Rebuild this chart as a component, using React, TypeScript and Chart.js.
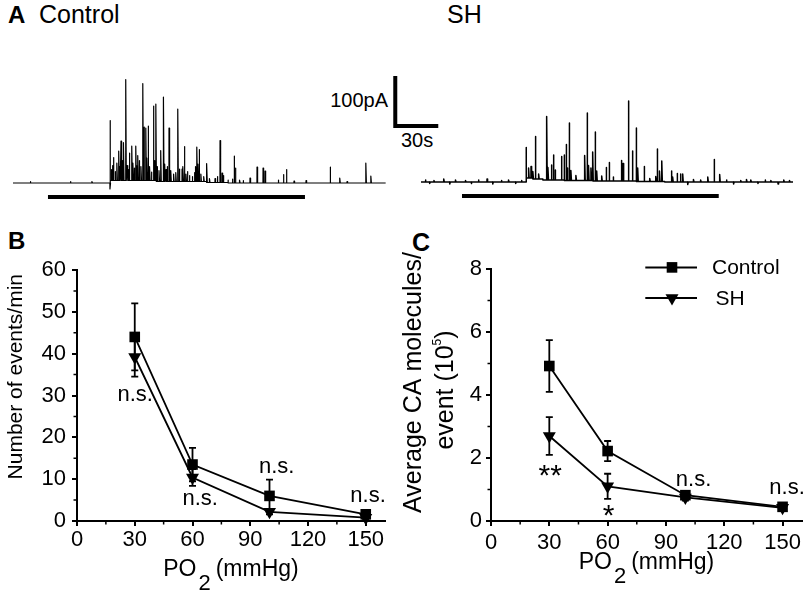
import React, { useEffect, useRef } from 'react';
import { Chart, registerables } from 'chart.js';

Chart.register(...registerables);

const FONT = '"Liberation Sans", Arial, Helvetica, sans-serif';

// ---------------- Panel A: amperometric traces (time in s, current in pA) ----------------
const ctrlSpikeTimes = [
  12, 40, 55, 67.6, 67.7, 68.5, 69.3, 70, 71.2, 72.4, 73.7, 74.4, 75.3, 76.1, 77, 78.6, 79.5, 80.2, 81.1, 82.8,
  83.6, 84.5, 85.6, 86.2, 87, 88, 89.2, 90.5, 91, 91.4, 92.6, 93.3, 94.2, 95.2, 96.5, 97.9, 98.6, 99.6, 100.5,
  101.8, 103, 104.9, 105.8, 106.7, 107.5, 108.8, 110, 112, 113.5, 114.9, 116, 117.9, 118.5, 119.5, 120.6, 121.6,
  123, 125, 126.5, 127.3, 128.2, 129, 129.8, 131, 133, 135.1, 137, 140.9, 142.5, 144.4, 145.8, 146.7, 150, 153,
  154.2, 155.1, 158, 160.5, 165.3, 170.2, 174.4, 175.8, 185, 188.6, 190.7, 196, 204.4, 221.2, 227.9, 233, 246.1, 249.6,
];
const ctrlSpikeAmps = [
  3, 3, 3, -12, 125, 22, 30, 46, 18, 35, 59, 28, 79, 40, 76, 202, 30, 22, 55, 69,
  35, 25, 69, 30, 50, 40, 28, 194, 30, 107, 105, 45, 109, 28, 17, 149, 40, 153, 30,
  22, 62, 169, 35, 24, 30, 107, 22, 15, 18, 145, 25, 25, 30, 70, 15, 20,
  12, 10, 18, 30, 69, 35, 64, 15, 10, 38, 8, 8, 12, 84, 19, 14, 6, 8,
  54, 30, 6, 5, 10, 32, 30, 24, 6, 17, 27, 4, 5, 32, 10, 3, 40, 14,
];
const ctrlBaseTimes = [0, 67.8, 100, 135, 150];
const ctrlBaseLevels = [0, 5, 3, 1, 0];
const ctrlStimulus = [24.4, 203.7];

const shSpikeTimes = [
  3, 6, 9, 15.8, 20, 24, 31, 35, 40, 46, 50, 56, 61, 66, 70,
  73.3, 75, 76.7, 78, 79.7, 82, 87.6, 88.5, 90.9, 92.3, 93.5, 97.9, 99.8, 101.2, 102, 103.3, 104.5, 108,
  114.1, 115.8, 116.8, 118.5, 119.7, 121.4, 122.5, 126, 129.1, 131.2, 134, 139.7, 140.9, 144.6, 147.4, 150.2,
  151.1, 155.6, 159.5, 163.7, 164.7, 166.3, 167.9, 174.6, 175.5, 178.6, 180.9, 182.5, 186, 190, 195, 200, 204.4, 208.3,
  213, 218, 223, 227, 230, 235, 240, 244, 249, 253, 257,
];
const shSpikeAmps = [
  4, -3, 3, 6, -4, 4, 3, -3, 4, 6, -4, 3, 4, -3, 3,
  61, 20, 23, 15, 85, 10, 127, 25, 30, 50, 20, 47, 50, 72, 25, 115, 20, 10,
  50, 135, 30, 25, 57, 98, 20, 10, 27, 37, 8, 41, 35, 160, 60, 107,
  27, 30, 6, 10, 65, 21, 41, 22, 10, 17, 16, 16, -5, 5, 4, 10, 45, 15,
  4, -4, 3, 5, 4, -3, 4, 3, -4, 4, 3,
];
const shBaseTimes = [0, 73.3, 78, 85, 100, 120, 150, 170];
const shBaseLevels = [0, 8, 6, 4, 3, 2, 1, 0];
const shStimulus = [28.6, 207.7];

const scaleBarTime = 30; // s
const scaleBarCurrent = 100; // pA

// ---------------- Panels B & C ----------------
const po2Levels = [30, 60, 100, 150];
const po2Ticks = [0, 30, 60, 90, 120, 150];

const eventsControl = [44, 13.5, 6, 1.6];
const eventsControlSem = [8, 4, 3.9, 0.5];
const eventsSH = [39.2, 10.4, 2.2, 0.8];
const eventsSHSem = [4.7, 2, 0.6, 0.3];
const eventsTicks = [0, 10, 20, 30, 40, 50, 60];
const eventsNotes = ['n.s.', 'n.s.', 'n.s.', 'n.s.'];
const eventsNoteX = [30.2, 64, 103.7, 151.2];
const eventsNoteY = [30.1, 5.2, 12.8, 6.0];

const moleculesControl = [4.92, 2.22, 0.82, 0.45];
const moleculesControlSem = [0.82, 0.32, 0.1, 0.08];
const moleculesSH = [2.7, 1.1, 0.75, 0.42];
const moleculesSHSem = [0.6, 0.4, 0.1, 0.07];
const moleculesTicks = [0, 2, 4, 6, 8];
const moleculesNotes = ['**', '*', 'n.s.', 'n.s.'];
const moleculesNoteX = [30.5, 60.5, 104.2, 152.3];
const moleculesNoteY = [1.68, 0.42, 1.3, 1.03];

const seriesNames = ['Control', 'SH'];

// ---------------- layout constants ----------------
const PX_PER_S = 1.4333;
const PX_PER_PA = 0.5;
const TRACE_MIN = -38;
const TRACE_MAX = 222;
const STIM_LEVEL = -28;

type Pt = { x: number; y: number };

function buildTrace(spT: number[], spA: number[], bT: number[], bV: number[], end: number): Pt[] {
  const ev: { t: number; k: number; v: number }[] = [];
  spT.forEach((t, i) => ev.push({ t, k: 1, v: spA[i] }));
  bT.forEach((t, i) => ev.push({ t, k: 0, v: bV[i] }));
  ev.sort((a, b) => a.t - b.t || a.k - b.k);
  const pts: Pt[] = [{ x: 0, y: 0 }];
  let level = 0;
  for (const e of ev) {
    if (e.k === 0) {
      pts.push({ x: e.t, y: level });
      level = e.v;
      pts.push({ x: e.t, y: level });
    } else {
      pts.push({ x: e.t, y: level }, { x: e.t + 0.05, y: level + e.v }, { x: e.t + 0.45, y: level });
    }
  }
  pts.push({ x: end, y: level });
  return pts;
}

function TraceChart(props: {
  spT: number[]; spA: number[]; bT: number[]; bV: number[]; stim: number[];
  end: number; xMax: number; left: number; top: number; width: number; lineWidth: number; scaleBarAt?: number[];
}) {
  const ref = useRef<HTMLCanvasElement>(null);
  useEffect(() => {
    const datasets: any[] = [
      { data: buildTrace(props.spT, props.spA, props.bT, props.bV, props.end), borderColor: '#000', borderWidth: props.lineWidth, pointRadius: 0, tension: 0, borderJoinStyle: 'round' },
      { data: [{ x: props.stim[0], y: STIM_LEVEL }, { x: props.stim[1], y: STIM_LEVEL }], borderColor: '#000', borderWidth: 4, pointRadius: 0 },
    ];
    if (props.scaleBarAt) {
      const [t0, i0] = props.scaleBarAt;
      datasets.push({
        data: [{ x: t0, y: i0 + scaleBarCurrent }, { x: t0, y: i0 }, { x: t0 + scaleBarTime, y: i0 }],
        borderColor: '#000', borderWidth: 4, pointRadius: 0, borderJoinStyle: 'miter',
      });
    }
    const chart = new Chart(ref.current!, {
      type: 'line',
      data: { datasets },
      options: {
        animation: false, responsive: false, devicePixelRatio: 1, events: [],
        layout: { padding: 0 },
        plugins: { legend: { display: false }, tooltip: { enabled: false } },
        scales: {
          x: { type: 'linear', display: false, min: 0, max: props.xMax },
          y: { type: 'linear', display: false, min: TRACE_MIN, max: TRACE_MAX },
        },
      } as any,
    });
    return () => chart.destroy();
  }, []);
  const h = Math.round((TRACE_MAX - TRACE_MIN) * PX_PER_PA);
  return <canvas ref={ref} width={props.width} height={h} style={{ position: 'absolute', left: props.left, top: props.top }} />;
}

type Part = { text: string; size: number; dy?: number; gap?: number };

function drawRich(ctx: CanvasRenderingContext2D, parts: Part[], cx: number, y: number) {
  ctx.textAlign = 'left';
  ctx.textBaseline = 'alphabetic';
  const widths = parts.map((p) => { ctx.font = `${p.size}px ${FONT}`; return ctx.measureText(p.text).width; });
  const total = parts.reduce((s, p, i) => s + (p.gap || 0) + widths[i], 0);
  let x = cx - total / 2;
  parts.forEach((p, i) => {
    ctx.font = `${p.size}px ${FONT}`;
    x += p.gap || 0;
    ctx.fillText(p.text, x, y + (p.dy || 0));
    x += widths[i];
  });
}

function drawMarker(ctx: CanvasRenderingContext2D, style: string, x: number, y: number, r: number) {
  ctx.beginPath();
  if (style === 'rect') {
    const s = Math.SQRT1_2 * r;
    ctx.rect(x - s, y - s, 2 * s, 2 * s);
  } else {
    ctx.moveTo(x, y + r);
    ctx.lineTo(x - Math.sin(Math.PI / 3) * r, y - r / 2);
    ctx.lineTo(x + Math.sin(Math.PI / 3) * r, y - r / 2);
    ctx.closePath();
  }
  ctx.fill();
}

type PlotSpec = {
  key: string; width: number; yMax: number; yStep: number; yMinor: number; yTicks: number[];
  ctrl: number[]; ctrlSem: number[]; sh: number[]; shSem: number[];
  notes: string[]; noteX: number[]; noteY: number[];
  yAxisWidth: number; padTop: number; padRight: number; yLabelPad: number; xLabelPad: number;
  yTitle: { parts: Part[]; baseX: number; centerY: number }[];
  xTitleDrop: number; legend: boolean;
};

function PlotChart({ spec, left, top }: { spec: PlotSpec; left: number; top: number }) {
  const ref = useRef<HTMLCanvasElement>(null);
  useEffect(() => {
    const sems = [spec.ctrlSem, spec.shSem];
    const vals = [spec.ctrl, spec.sh];
    const styles = ['rect', 'triangle'];
    const R = 7.5;
    const decor = {
      id: 'decor_' + spec.key,
      beforeDatasetsDraw(chart: any) {
        const ctx = chart.ctx as CanvasRenderingContext2D;
        const xs = chart.scales.x, ys = chart.scales.y;
        ctx.save();
        ctx.strokeStyle = '#000';
        ctx.lineWidth = 1.8;
        vals.forEach((arr, d) => arr.forEach((v, j) => {
          const x = xs.getPixelForValue(po2Levels[j]);
          const y1 = ys.getPixelForValue(v - sems[d][j]);
          const y2 = ys.getPixelForValue(v + sems[d][j]);
          ctx.beginPath();
          ctx.moveTo(x, y1); ctx.lineTo(x, y2);
          ctx.moveTo(x - 3.5, y1); ctx.lineTo(x + 3.5, y1);
          ctx.moveTo(x - 3.5, y2); ctx.lineTo(x + 3.5, y2);
          ctx.stroke();
        }));
        ctx.restore();
      },
      afterDraw(chart: any) {
        const ctx = chart.ctx as CanvasRenderingContext2D;
        const xs = chart.scales.x, ys = chart.scales.y;
        const area = chart.chartArea;
        ctx.save();
        ctx.fillStyle = '#000';
        ctx.strokeStyle = '#000';
        // minor ticks
        ctx.lineWidth = 1.5;
        ctx.beginPath();
        for (let v = 15; v < 160; v += 30) {
          const x = xs.getPixelForValue(v);
          ctx.moveTo(x, area.bottom); ctx.lineTo(x, area.bottom + 3.5);
        }
        for (let v = spec.yMinor; v < spec.yMax; v += spec.yStep) {
          const y = ys.getPixelForValue(v);
          ctx.moveTo(area.left, y); ctx.lineTo(area.left - 3.5, y);
        }
        ctx.stroke();
        // y title (rotated)
        spec.yTitle.forEach((line) => {
          ctx.save();
          ctx.translate(line.baseX, line.centerY);
          ctx.rotate(-Math.PI / 2);
          drawRich(ctx, line.parts, 0, 0);
          ctx.restore();
        });
        // x title
        drawRich(ctx, [
          { text: 'PO', size: 23 },
          { text: '2', size: 22, dy: 14, gap: 2 },
          { text: '(mmHg)', size: 23, gap: 5 },
        ], (area.left + area.right) / 2, area.bottom + spec.xTitleDrop);
        // annotations
        ctx.textAlign = 'center';
        ctx.textBaseline = 'alphabetic';
        spec.notes.forEach((t, i) => {
          const x = xs.getPixelForValue(spec.noteX[i]);
          const y = ys.getPixelForValue(spec.noteY[i]);
          if (t.startsWith('*')) {
            ctx.font = `30px ${FONT}`;
            ctx.fillText(t, x, y + 0.575 * 30);
          } else {
            ctx.font = `22px ${FONT}`;
            ctx.fillText(t, x, y + 0.26 * 22);
          }
        });
        // legend
        if (spec.legend) {
          const rows = [area.top - 1.6, area.top + 29];
          const textX = [area.left + 221, area.left + 224.5];
          rows.forEach((ry, i) => {
            ctx.lineWidth = 2;
            ctx.beginPath();
            ctx.moveTo(area.left + 154.3, ry); ctx.lineTo(area.left + 206, ry);
            ctx.stroke();
            drawMarker(ctx, styles[i], area.left + 181, ry, R);
            ctx.font = `21px ${FONT}`;
            ctx.textAlign = 'left';
            ctx.textBaseline = 'middle';
            ctx.fillText(seriesNames[i], textX[i], ry + 1);
          });
        }
        ctx.restore();
      },
    };
    const axisCommon = {
      type: 'linear',
      border: { display: true, color: '#000', width: 2 },
      grid: { display: true, drawOnChartArea: false, drawTicks: true, tickLength: 5, color: '#000', lineWidth: 2 },
    };
    const chart = new Chart(ref.current!, {
      type: 'line',
      data: {
        datasets: vals.map((arr, d) => ({
          label: seriesNames[d],
          data: arr.map((v, j) => ({ x: po2Levels[j], y: v })),
          borderColor: '#000', backgroundColor: '#000', borderWidth: 1.8,
          pointStyle: styles[d], pointRadius: R, pointBorderWidth: 0, pointBackgroundColor: '#000',
          rotation: d === 1 ? 180 : 0, tension: 0, clip: false,
        })),
      },
      options: {
        animation: false, responsive: false, devicePixelRatio: 1, events: [],
        layout: { padding: { left: 0, top: spec.padTop, right: spec.padRight, bottom: 0 } },
        plugins: { legend: { display: false }, tooltip: { enabled: false } },
        scales: {
          x: {
            ...axisCommon, min: 0, max: 160,
            afterBuildTicks: (s: any) => { s.ticks = po2Ticks.map((v) => ({ value: v })); },
            ticks: { color: '#000', font: { family: FONT, size: 22 }, padding: spec.xLabelPad, maxRotation: 0, autoSkip: false },
            afterFit: (s: any) => { s.height = 73; },
          },
          y: {
            ...axisCommon, min: 0, max: spec.yMax,
            afterBuildTicks: (s: any) => { s.ticks = spec.yTicks.map((v) => ({ value: v })); },
            ticks: { color: '#000', font: { family: FONT, size: 22 }, padding: spec.yLabelPad, autoSkip: false },
            afterFit: (s: any) => { s.width = spec.yAxisWidth; },
          },
        },
      } as any,
      plugins: [decor as any],
    });
    return () => chart.destroy();
  }, []);
  return <canvas ref={ref} width={spec.width} height={369} style={{ position: 'absolute', left, top }} />;
}

const specB: PlotSpec = {
  key: 'B', width: 400, yMax: 60, yStep: 10, yMinor: 5, yTicks: eventsTicks,
  ctrl: eventsControl, ctrlSem: eventsControlSem, sh: eventsSH, shSem: eventsSHSem,
  notes: eventsNotes, noteX: eventsNoteX, noteY: eventsNoteY,
  yAxisWidth: 77, padTop: 45, padRight: 15, yLabelPad: 6, xLabelPad: 1,
  yTitle: [{ parts: [{ text: 'Number of events/min', size: 21 }], baseX: 21.7, centerY: 151.7 }],
  xTitleDrop: 55, legend: false,
};

const specC: PlotSpec = {
  key: 'C', width: 412, yMax: 8, yStep: 2, yMinor: 1, yTicks: moleculesTicks,
  ctrl: moleculesControl, ctrlSem: moleculesControlSem, sh: moleculesSH, shSem: moleculesSHSem,
  notes: moleculesNotes, noteX: moleculesNoteX, noteY: moleculesNoteY,
  yAxisWidth: 91, padTop: 44, padRight: 10, yLabelPad: 4, xLabelPad: 4,
  yTitle: [
    { parts: [{ text: 'Average CA molecules/', size: 25 }], baseX: 20.5, centerY: 157.5 },
    { parts: [{ text: 'event (10', size: 25 }, { text: '5', size: 12, dy: -12 }, { text: ')', size: 25 }], baseX: 52.5, centerY: 165 },
  ],
  xTitleDrop: 48, legend: true,
};

function Label({ text, left, top, right, size, bold }: { text: string; left?: number; top: number; right?: number; size: number; bold?: boolean }) {
  return (
    <div style={{
      position: 'absolute', left, right, top, fontSize: size, lineHeight: `${size}px`,
      fontWeight: bold ? 'bold' : 'normal', whiteSpace: 'nowrap', fontFamily: FONT, color: '#000',
    }}>{text}</div>
  );
}

export default function App() {
  const ctrlEnd = 260;
  const shEnd = 259.5;
  return (
    <div style={{ position: 'absolute', left: 0, top: 0, width: 812, height: 594, background: '#fff', overflow: 'hidden' }}>
      <Label text="A" left={8} top={3} size={24} bold />
      <Label text="Control" left={39} top={2} size={25} />
      <Label text="SH" left={447} top={2} size={25} />
      <Label text="100pA" right={812 - 388} top={90.4} size={20} />
      <Label text="30s" left={401} top={129.8} size={20} />
      <TraceChart spT={ctrlSpikeTimes} spA={ctrlSpikeAmps} bT={ctrlBaseTimes} bV={ctrlBaseLevels} stim={ctrlStimulus}
        end={ctrlEnd} xMax={300} left={13} top={72} width={Math.round(300 * PX_PER_S)} lineWidth={1.2}
        scaleBarAt={[266.7, 113.8]} />
      <TraceChart spT={shSpikeTimes} spA={shSpikeAmps} bT={shBaseTimes} bV={shBaseLevels} stim={shStimulus}
        end={shEnd} xMax={shEnd} left={421} top={71} width={Math.round(shEnd * PX_PER_S)} lineWidth={1.5} />
      <Label text="B" left={8} top={229} size={24} bold />
      <Label text="C" left={412} top={230} size={25} bold />
      <PlotChart spec={specB} left={0} top={225} />
      <PlotChart spec={specC} left={400} top={225} />
    </div>
  );
}
